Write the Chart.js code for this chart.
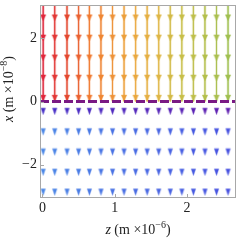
<!DOCTYPE html>
<html>
<head>
<meta charset="utf-8">
<script src="https://cdn.jsdelivr.net/npm/chart.js@4.4.1/dist/chart.umd.min.js"></script>
<style>
  html, body { margin: 0; padding: 0; background: #fff; }
  #wrap { width: 241px; height: 240px; }
</style>
</head>
<body>
<div id="wrap"><canvas id="c" width="241" height="240"></canvas></div>
<script>
// columns of the field (z, in 1e-6 m)
const zCols = [0.01, 0.17, 0.34, 0.5, 0.65, 0.81, 0.97, 1.13, 1.29, 1.45, 1.61, 1.77, 1.93, 2.09, 2.25, 2.41, 2.57];
// arrow rows (x, in 1e-8 m)
const upperRows = [2.66, 2.02, 1.39, 0.75, 0.11];
const lowerRows = [-0.31, -0.96, -1.6, -2.24, -2.87];
// interface position
const interfaceX = 0;
// axis ranges and ticks
const zRange = [-0.034, 2.68];
const xRange = [-3.06, 3.06];
const zTicks = [0, 1, 2];
const xTicks = [-2, 0, 2];

const SERIF = '"Liberation Serif", "DejaVu Serif", serif';

// colour helpers
function hexToRgb(h) {
  const n = parseInt(h.slice(1), 16);
  return [(n >> 16) & 255, (n >> 8) & 255, n & 255];
}
function mix(a, b, t) {
  const A = hexToRgb(a), B = hexToRgb(b);
  return A.map((v, i) => Math.round(v + (B[i] - v) * t));
}
function ramp(stops, t) {
  for (let i = 1; i < stops.length; i++) {
    if (t <= stops[i][0]) {
      const s = (t - stops[i - 1][0]) / (stops[i][0] - stops[i - 1][0]);
      return mix(stops[i - 1][1], stops[i][1], s);
    }
  }
  return hexToRgb(stops[stops.length - 1][1]);
}
const rgba = (c, a) => "rgba(" + c[0] + "," + c[1] + "," + c[2] + "," + a + ")";

const warmStops = [
  [0, "#e0263c"], [0.12, "#e4462f"], [0.25, "#f07a30"], [0.45, "#eca13c"],
  [0.6, "#e2b444"], [0.75, "#c8bf48"], [1, "#a0bf50"]
];
function warmColor(ci) {
  return ramp(warmStops, ci / (zCols.length - 1));
}
function coolColor(ri, ci) {
  const t = ci / (zCols.length - 1);
  if (ri === 0) return mix("#4630c8", "#6020b0", t);
  return mix("#4a86e6", "#4650e0", t);
}

// arrow-head sprites
function makeHead(c, w, h) {
  const cv = document.createElement("canvas");
  cv.width = Math.ceil(w) + 2;
  cv.height = Math.ceil(h) + 2;
  const g = cv.getContext("2d");
  const ox = (cv.width - w) / 2, oy = (cv.height - h) / 2;
  g.beginPath();
  g.moveTo(ox, oy);
  g.lineTo(ox + w, oy);
  g.lineTo(ox + w / 2, oy + h);
  g.closePath();
  g.fillStyle = rgba(c, 1);
  g.fill();
  g.lineWidth = 0.8;
  g.strokeStyle = rgba(c, 0.45);
  g.stroke();
  return cv;
}

const upperPts = [], upperStyles = [];
upperRows.forEach(function (x) {
  zCols.forEach(function (z, ci) {
    upperPts.push({ x: z, y: x });
    upperStyles.push(makeHead(warmColor(ci), 5.5, 6));
  });
});
const lowerPts = [], lowerStyles = [];
lowerRows.forEach(function (x, ri) {
  zCols.forEach(function (z, ci) {
    lowerPts.push({ x: z, y: x });
    lowerStyles.push(makeHead(coolColor(ri, ci), 4.5, 6.5));
  });
});

const datasets = [];
// dashed interface line on top
datasets.push({
  type: "line",
  data: [{ x: zRange[0], y: interfaceX }, { x: zRange[1], y: interfaceX }],
  borderColor: "#7a1a84",
  borderWidth: 3,
  borderDash: [9, 3],
  pointRadius: 0,
  order: 0
});
datasets.push({
  type: "scatter",
  data: upperPts,
  pointStyle: upperStyles,
  pointRadius: 3,
  order: 1
});
datasets.push({
  type: "scatter",
  data: lowerPts,
  pointStyle: lowerStyles,
  pointRadius: 3,
  order: 1
});
// streamlines above the interface
zCols.forEach(function (z, ci) {
  const c = warmColor(ci);
  const pts = [{ x: z, y: xRange[1] }, { x: z, y: interfaceX }];
  datasets.push({
    type: "line", data: pts,
    borderColor: rgba(c, 0.22),
    borderWidth: 3, pointRadius: 0, order: 3
  });
  datasets.push({
    type: "line", data: pts,
    borderColor: rgba(c, 0.65),
    borderWidth: 1, pointRadius: 0, order: 2
  });
});

function drawRich(ctx, parts) {
  let w = 0;
  parts.forEach(function (p) { ctx.font = p.f; w += ctx.measureText(p.t).width; });
  let x = -w / 2;
  parts.forEach(function (p) {
    ctx.font = p.f;
    ctx.fillText(p.t, x, p.dy || 0);
    x += ctx.measureText(p.t).width;
  });
}

const decor = {
  id: "decor",
  afterDraw(chart) {
    const ctx = chart.ctx, a = chart.chartArea;
    const sx = chart.scales.x, sy = chart.scales.y;
    ctx.save();
    ctx.strokeStyle = "#a8a8a8";
    ctx.lineWidth = 1;
    ctx.strokeRect(a.left + 0.5, a.top + 0.5, a.right - a.left - 1, a.bottom - a.top - 1);
    ctx.beginPath();
    zTicks.forEach(function (v) {
      const px = Math.round(sx.getPixelForValue(v)) + 0.5;
      ctx.moveTo(px, a.bottom);
      ctx.lineTo(px, a.bottom - 4);
    });
    xTicks.forEach(function (v) {
      const py = Math.round(sy.getPixelForValue(v)) + 0.5;
      ctx.moveTo(a.left, py);
      ctx.lineTo(a.left + 4, py);
    });
    ctx.stroke();

    ctx.fillStyle = "#222";
    ctx.textBaseline = "alphabetic";
    ctx.textAlign = "left";
    ctx.save();
    ctx.translate(138, 234);
    drawRich(ctx, [
      { t: "z", f: "italic 14px " + SERIF },
      { t: " (m \u00d710", f: "14px " + SERIF },
      { t: "\u22126", f: "10px " + SERIF, dy: -6 },
      { t: ")", f: "14px " + SERIF }
    ]);
    ctx.restore();
    ctx.save();
    ctx.translate(13, 89);
    ctx.rotate(-Math.PI / 2);
    drawRich(ctx, [
      { t: "x", f: "italic 14px " + SERIF },
      { t: " (m \u00d710", f: "14px " + SERIF },
      { t: "\u22128", f: "10px " + SERIF, dy: -6 },
      { t: ")", f: "14px " + SERIF }
    ]);
    ctx.restore();
    ctx.restore();
  }
};

new Chart(document.getElementById("c"), {
  data: { datasets: datasets },
  options: {
    responsive: false,
    animation: false,
    events: [],
    layout: { padding: { top: 2, right: 3, left: 0, bottom: 0 } },
    plugins: { legend: { display: false }, tooltip: { enabled: false } },
    scales: {
      x: {
        type: "linear",
        min: zRange[0], max: zRange[1],
        afterBuildTicks: function (s) { s.ticks = zTicks.map(v => ({ value: v })); },
        afterFit: function (s) {
          s.height = 42;
          s.paddingLeft = 0;
          s.paddingRight = 0;
        },
        grid: { display: false, drawTicks: false },
        border: { display: false },
        ticks: {
          padding: 2, color: "#222", maxRotation: 0,
          font: { family: SERIF, size: 14 }
        }
      },
      y: {
        type: "linear",
        min: xRange[0], max: xRange[1],
        afterBuildTicks: function (s) { s.ticks = xTicks.map(v => ({ value: v })); },
        afterFit: function (s) {
          s.width = 40;
          s.paddingTop = 0;
          s.paddingBottom = 0;
        },
        grid: { display: false, drawTicks: false },
        border: { display: false },
        ticks: {
          padding: 3, color: "#222",
          font: { family: SERIF, size: 14 },
          callback: function (v) { return String(v).replace("-", "\u2212"); }
        }
      }
    }
  },
  plugins: [decor]
});
</script>
</body>
</html>
